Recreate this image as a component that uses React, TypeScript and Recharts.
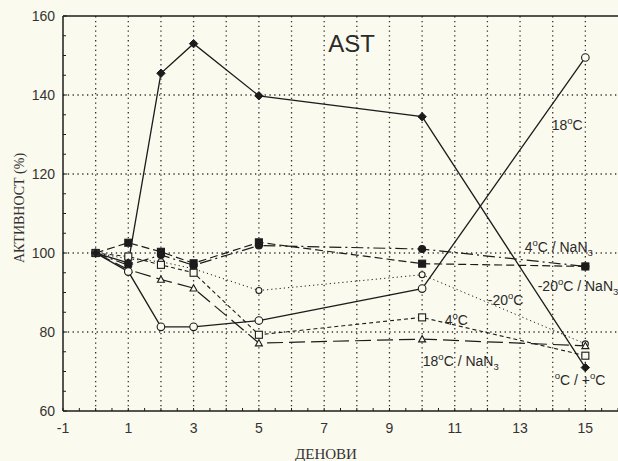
import React from "react";
import { LineChart, Line, XAxis, YAxis, ReferenceLine, ReferenceDot } from "recharts";

const days = [0, 1, 2, 3, 5, 10, 15];
const plusC = [100, 97.5, 145.5, 153, 139.8, 134.5, 71];
const c18 = [100, 95.3, 81.3, 81.3, 82.9, 91, 149.5];
const cm20 = [100, 98.5, 97.8, 96, 90.5, 94.5, 77];
const c4 = [100, 99.1, 97, 95, 79.3, 83.7, 74];
const c18N = [100, 95.8, 93.3, 91.1, 77.2, 78.2, 76.5];
const c4N = [100, 96.9, 99.5, 96.9, 101.9, 101, 96.6];
const cm20N = [100, 102.6, 100.3, 97.4, 102.7, 97.3, 96.6];

const xTicks = Array.from({ length: 35 }, (_, i) => -1 + i * 0.5);
const xLabels = [-1, 1, 3, 5, 7, 9, 11, 13, 15];
const yTicks = Array.from({ length: 21 }, (_, i) => 60 + i * 5);
const yLabels = [60, 80, 100, 120, 140, 160];
const gridX = Array.from({ length: 16 }, (_, i) => i);
const gridY = [80, 100, 120, 140];

type Ann = { x: number; y: number; parts: [string, string][]; anchor: string; size: number };
// parts: [text, kind] kind: "n" normal, "sup" superscript, "sub" subscript
const annotations: Ann[] = [
  { x: 7.84, y: 150.9, parts: [["AST", "n"]], anchor: "middle", size: 24 },
  { x: 13.97, y: 131.1, parts: [["18", "n"], ["o", "sup"], ["C", "n"]], anchor: "start", size: 14 },
  { x: 13.14, y: 100.25, parts: [["4", "n"], ["o", "sup"], ["C / NaN", "n"], ["3", "sub"]], anchor: "start", size: 14 },
  { x: 13.54, y: 90.4, parts: [["-20", "n"], ["o", "sup"], ["C / NaN", "n"], ["3", "sub"]], anchor: "start", size: 14 },
  { x: 12.01, y: 86.8, parts: [["-20", "n"], ["o", "sup"], ["C", "n"]], anchor: "start", size: 14 },
  { x: 10.69, y: 81.8, parts: [["4", "n"], ["o", "sup"], ["C", "n"]], anchor: "start", size: 14 },
  { x: 10.02, y: 71.4, parts: [["18", "n"], ["o", "sup"], ["C / NaN", "n"], ["3", "sub"]], anchor: "start", size: 14 },
  { x: 14.06, y: 66.6, parts: [["o", "sup"], ["C / +", "n"], ["o", "sup"], ["C", "n"]], anchor: "start", size: 14 },
];

const data = days.map((d, i) => ({
  day: d,
  plusC: plusC[i],
  c18: c18[i],
  cm20: cm20[i],
  c4: c4[i],
  c18N: c18N[i],
  c4N: c4N[i],
  cm20N: cm20N[i],
}));

const INK = "#1c1c1c";
const BG = "#fbfaee";
const SANS = "'Liberation Sans Narrow', 'Arial Narrow', 'Liberation Sans', sans-serif";
const SERIF = "'Liberation Serif', 'DejaVu Serif', serif";

const makeDot = (shape: string, filled: boolean, s: number) => (props: any) => {
  const { cx, cy, index } = props;
  if (cx == null || cy == null) return <g key={index} />;
  const fill = filled ? INK : BG;
  if (shape === "circle")
    return <circle key={index} cx={cx} cy={cy} r={s} fill={fill} stroke={INK} strokeWidth={1.1} />;
  if (shape === "square")
    return <rect key={index} x={cx - s} y={cy - s} width={2 * s} height={2 * s} fill={fill} stroke={INK} strokeWidth={1.1} />;
  if (shape === "diamond")
    return (
      <polygon key={index} points={`${cx},${cy - s} ${cx + s},${cy} ${cx},${cy + s} ${cx - s},${cy}`} fill={fill} stroke={INK} strokeWidth={1} />
    );
  return (
    <polygon key={index} points={`${cx},${cy - s} ${cx + s},${cy + s * 0.8} ${cx - s},${cy + s * 0.8}`} fill={fill} stroke={INK} strokeWidth={1.1} />
  );
};

const YTick = (props: any) => {
  const { x, y, payload } = props;
  const v = payload.value;
  const major = yLabels.includes(v);
  return (
    <g>
      <line x1={x} x2={x + (major ? 4 : 3)} y1={y} y2={y} stroke={INK} strokeWidth={1} />
      {major && (
        <text x={x - 8} y={y + 5} textAnchor="end" fontSize={14} fontFamily={SANS} fill="#333">
          {v}
        </text>
      )}
    </g>
  );
};

const XTick = (props: any) => {
  const { x, y, payload } = props;
  const v = payload.value;
  const major = xLabels.includes(v);
  return (
    <g>
      <line x1={x} x2={x} y1={y} y2={y - 3} stroke={INK} strokeWidth={1} />
      {major && (
        <text x={x} y={y + 22} textAnchor="middle" fontSize={14} fontFamily={SANS} fill="#333">
          {v}
        </text>
      )}
    </g>
  );
};

const renderAnn = (a: Ann) => (p: any) => {
  const { cx, cy } = p;
  const spans: React.ReactNode[] = [];
  let shift = 0;
  a.parts.forEach(([t, k], i) => {
    let dy = 0;
    const target = k === "sup" ? -6 : k === "sub" ? 4 : 0;
    dy = target - shift;
    shift = target;
    spans.push(
      <tspan key={i} dy={dy} fontSize={k === "n" ? a.size : a.size * 0.68}>
        {t}
      </tspan>
    );
  });
  return (
    <text x={cx} y={cy} textAnchor={a.anchor as any} fontFamily={SANS} fontSize={a.size} fill="#2a2a2a">
      {spans}
    </text>
  );
};

export default function App() {
  return (
    <div style={{ position: "fixed", left: 0, top: 0, width: 618, height: 461, background: BG }}>
      <LineChart width={618} height={461} data={data} margin={{ top: 16, right: 0, bottom: 0, left: 0 }}>
        <XAxis
          dataKey="day"
          type="number"
          domain={[-1, 16]}
          ticks={xTicks}
          interval={0}
          tickSize={0}
          tickMargin={0}
          tick={<XTick />}
          axisLine={{ stroke: INK, strokeWidth: 1.5 }}
          height={50}
          allowDataOverflow
          label={{
            content: (p: any) => {
              const vb = p.viewBox;
              return (
                <text x={326} y={459} textAnchor="middle" fontFamily={SERIF} fontSize={15} fill="#333">
                  ДЕНОВИ
                </text>
              );
            },
          }}
        />
        <YAxis
          type="number"
          domain={[60, 160]}
          ticks={yTicks}
          interval={0}
          tickSize={0}
          tickMargin={0}
          tick={<YTick />}
          axisLine={{ stroke: INK, strokeWidth: 1.5 }}
          width={63}
          allowDataOverflow
          label={{
            content: () => (
              <text
                x={24}
                y={208}
                transform="rotate(-90 24 208)"
                textAnchor="middle"
                fontFamily={SERIF}
                fontSize={14}
                fill="#333"
              >
                АКТИВНОСТ (%)
              </text>
            ),
          }}
        />
        {gridX.map((g) => (
          <ReferenceLine key={"gx" + g} x={g} stroke="#333" strokeWidth={1.3} strokeDasharray="1.3 3.5" />
        ))}
        {gridY.map((g) => (
          <ReferenceLine key={"gy" + g} y={g} stroke="#333" strokeWidth={1.3} strokeDasharray="1.3 3.5" />
        ))}
        <ReferenceLine y={160} stroke={INK} strokeWidth={1.5} />
        <Line dataKey="cm20" stroke={INK} strokeWidth={1} strokeDasharray="1.2 3" dot={makeDot("circle", false, 3)} isAnimationActive={false} />
        <Line dataKey="c4" stroke={INK} strokeWidth={1.1} strokeDasharray="4 3" dot={makeDot("square", false, 3.5)} isAnimationActive={false} />
        <Line dataKey="c18N" stroke={INK} strokeWidth={1.2} strokeDasharray="16 6" dot={makeDot("triangle", false, 3.5)} isAnimationActive={false} />
        <Line dataKey="cm20N" stroke={INK} strokeWidth={1.2} strokeDasharray="8 4" dot={makeDot("square", true, 3.5)} isAnimationActive={false} />
        <Line dataKey="c4N" stroke={INK} strokeWidth={1.2} strokeDasharray="12 4 2 4" dot={makeDot("circle", true, 3.5)} isAnimationActive={false} />
        <Line dataKey="c18" stroke={INK} strokeWidth={1.3} dot={makeDot("circle", false, 3.8)} isAnimationActive={false} />
        <Line dataKey="plusC" stroke={INK} strokeWidth={1.3} dot={makeDot("diamond", true, 4.2)} isAnimationActive={false} />
        {annotations.map((a, i) => (
          <ReferenceDot key={"an" + i} x={a.x} y={a.y} r={0} shape={renderAnn(a)} />
        ))}
      </LineChart>
    </div>
  );
}
